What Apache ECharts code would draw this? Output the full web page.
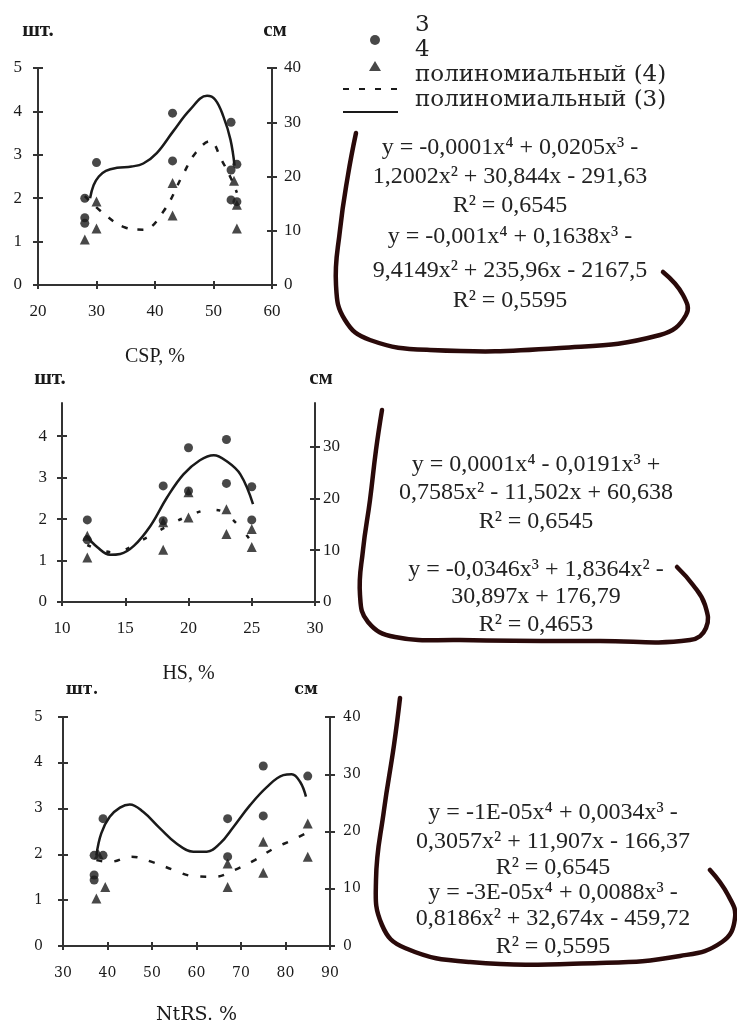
<!DOCTYPE html>
<html>
<head>
<meta charset="utf-8">
<script src="https://cdn.jsdelivr.net/npm/echarts@6/dist/echarts.min.js"></script>
<style>html,body{margin:0;padding:0;background:#fff}#c{width:737px;height:1030px}</style>
</head>
<body>
<div id="c"></div>
<script>
// ---------- DATA ----------
// series "3" (шт., circles) and series "4" (см, triangles)
const cspCircles   = [[28,2.0],[28,1.55],[28,1.42],[30,2.82],[43,3.96],[43,2.86],[53,3.75],[53,2.65],[54,2.78],[53,1.96],[54,1.92]];
const cspTriangles = [[28,8.4],[30,10.4],[30,15.4],[43,12.8],[43,18.8],[54,10.4],[54,14.8],[53.5,19.2]];
const cspPoly3     = [[28.9,2.0],[29.5,2.3],[30.4,2.5],[31.6,2.63],[33.5,2.7],[36,2.73],[38,2.8],[40.3,3.04],[43.1,3.54],[46,4.04],[48.9,4.36],[50.3,4.27],[51.7,3.88],[52.9,3.35],[53.6,2.75]];
const cspPoly4     = [[28,16.4],[31.4,13],[34.9,10.6],[38,10.2],[41.4,13.5],[44.9,20.6],[46.9,24.3],[49.4,26.5],[51.4,23],[53.1,19.4],[54,17]];

const hsCircles    = [[12,1.98],[12,1.5],[18,2.8],[18,1.96],[20,3.72],[20,2.68],[23,3.92],[23,2.86],[25,2.78],[25,1.98]];
const hsTriangles  = [[12,8.6],[12,12.8],[18,10.1],[18,15.4],[20,16.3],[20,21.2],[23,13.1],[23,17.9],[25,10.6],[25,14.1]];
const hsPoly3      = [[11.9,1.6],[12.8,1.32],[13.8,1.14],[14.6,1.16],[15.7,1.36],[17,1.84],[18.3,2.52],[19.6,3.08],[20.9,3.42],[22,3.54],[23,3.4],[24.1,3.08],[25.1,2.36]];
const hsPoly4      = [[12,11],[14,9.6],[16.7,12.4],[18,14.2],[20,16.6],[21.8,17.8],[23,17],[25,11.6]];

const ntrsCircles  = [[37,1.98],[37,1.55],[37,1.44],[39,2.78],[39,1.98],[67,2.78],[67,1.95],[75,3.93],[75,2.84],[85,3.71]];
const ntrsTriangles= [[37.5,8.3],[39.5,10.3],[38,16],[67,10.3],[67,14.4],[75,18.2],[75,12.8],[85,21.4],[85,15.6]];
const ntrsPoly3    = [[37.5,1.98],[38.6,2.46],[40.5,2.82],[42.8,3.02],[45,3.09],[48,2.93],[51.8,2.57],[55.5,2.24],[59.3,2.06],[62.3,2.06],[65.3,2.24],[68.3,2.6],[72,3.07],[75.8,3.47],[79.5,3.73],[81.4,3.75],[83.3,3.58],[84.6,3.26]];
const ntrsPoly4    = [[37.5,15],[40.5,14.7],[45.4,15.6],[50.3,14.6],[54.8,13.3],[59.3,12.2],[64.1,12.1],[68.6,13.3],[73.1,15],[77.3,17],[81.8,18.6],[84.6,19.7]];

const xNames = ['CSP, %', 'HS, %', 'NtRS. %'];
const legendNames = ['3', '4', 'полиномиальный (4)', 'полиномиальный (3)'];
const eqTop = ['y = -0,0001x\u2074 + 0,0205x\u00b3 -', '1,2002x\u00b2 + 30,844x - 291,63', 'R\u00b2 = 0,6545',
               'y = -0,001x\u2074 + 0,1638x\u00b3 -', '9,4149x\u00b2 + 235,96x - 2167,5', 'R\u00b2 = 0,5595'];
const eqMid = ['y = 0,0001x\u2074 - 0,0191x\u00b3 +', '0,7585x\u00b2 - 11,502x + 60,638', 'R\u00b2 = 0,6545',
               'y = -0,0346x\u00b3 + 1,8364x\u00b2 -', '30,897x + 176,79', 'R\u00b2 = 0,4653'];
const eqBot = ['y = -1E-05x\u2074 + 0,0034x\u00b3 -', '0,3057x\u00b2 + 11,907x - 166,37', 'R\u00b2 = 0,6545',
               'y = -3E-05x\u2074 + 0,0088x\u00b3 -', '0,8186x\u00b2 + 32,674x - 459,72', 'R\u00b2 = 0,5595'];

// ---------- LAYOUT ----------
const INK = '#1a1a1a';
const SERIF = '"Liberation Serif", "DejaVu Serif", serif';
const DJV = '"DejaVu Serif", serif';
const panels = [
  { grid:{left:38, top:68, width:234, height:217}, x:{min:20,max:60,interval:10}, yl:{min:0,max:5,vals:[0,1,2,3,4,5]}, yr:{min:0,max:40,vals:[0,10,20,30,40]},
    font:SERIF, fs:17, nameFont:SERIF, nameFs:21, xNameGap:62, lm:16, rm:12, xm:18,
    lName:{gap:27,pad:[0,0,0,0]}, rName:{gap:27,pad:[0,0,0,6]},
    c:cspCircles, t:cspTriangles, p3:cspPoly3, p4:cspPoly4, dash:[6,10] },
  { grid:{left:62, top:403, width:253, height:199}, x:{min:10,max:30,interval:5}, yl:{min:0,max:4.8,vals:[0,1,2,3,4]}, yr:{min:0,max:38.4,vals:[0,10,20,30]},
    font:SERIF, fs:17, nameFont:SERIF, nameFs:21, xNameGap:62, lm:15, rm:8, xm:18,
    lName:{gap:14,pad:[0,24,0,0]}, rName:{gap:14,pad:[0,0,0,12]},
    c:hsCircles, t:hsTriangles, p3:hsPoly3, p4:hsPoly4, dash:[4,16] },
  { grid:{left:63, top:717, width:267, height:229}, x:{min:30,max:90,interval:10}, yl:{min:0,max:5,vals:[0,1,2,3,4,5]}, yr:{min:0,max:40,vals:[0,10,20,30,40]},
    font:DJV, fs:14, nameFont:DJV, nameFs:16, xNameGap:60, lm:20, rm:13, xm:20,
    lName:{gap:19,pad:[0,0,0,38]}, rName:{gap:19,pad:[0,48,0,0]},
    c:ntrsCircles, t:ntrsTriangles, p3:ntrsPoly3, p4:ntrsPoly4, dash:[6,12] }
];

const grid = [], xAxis = [], yAxis = [], series = [];
const lineAx = { show:true, lineStyle:{ color:'#333', width:2 } };
panels.forEach((p, i) => {
  grid.push(Object.assign({ containLabel:false }, p.grid));
  xAxis.push({ type:'value', gridIndex:i, position:'bottom', min:p.x.min, max:p.x.max, interval:p.x.interval,
    axisLine:lineAx, axisTick:{show:true, length:4, lineStyle:{color:'#333',width:2}},
    axisLabel:{ color:INK, fontFamily:p.font, fontSize:p.fs, margin:p.xm },
    splitLine:{show:false},
    name:xNames[i], nameLocation:'middle', nameGap:p.xNameGap,
    nameTextStyle:{ color:INK, fontFamily:p.nameFont, fontSize:i===2?19:20 } });
  yAxis.push({ type:'value', gridIndex:i, position:'left', min:p.yl.min, max:p.yl.max, interval:1,
    axisLine:lineAx, axisTick:{show:true, length:5, customValues:p.yl.vals, lineStyle:{color:'#333',width:2}},
    axisLabel:{ color:INK, fontFamily:p.font, fontSize:p.fs, margin:p.lm, customValues:p.yl.vals },
    splitLine:{show:false},
    name:'шт.', nameLocation:'end', nameGap:p.lName.gap,
    nameTextStyle:{ color:INK, fontFamily:p.nameFont, fontSize:p.nameFs, fontWeight:'bold', padding:p.lName.pad } });
  yAxis.push({ type:'value', gridIndex:i, position:'right', min:p.yr.min, max:p.yr.max, interval:10,
    axisLine:lineAx, axisTick:{show:true, length:5, customValues:p.yr.vals, lineStyle:{color:'#333',width:2}},
    axisLabel:{ color:INK, fontFamily:p.font, fontSize:p.fs, margin:p.rm, customValues:p.yr.vals },
    splitLine:{show:false},
    name:'см', nameLocation:'end', nameGap:p.rName.gap,
    nameTextStyle:{ color:INK, fontFamily:p.nameFont, fontSize:p.nameFs, fontWeight:'bold', padding:p.rName.pad } });
});
// inner-tick copies (give crossing tick marks)
panels.forEach((p, i) => {
  xAxis.push({ type:'value', gridIndex:i, position:'bottom', min:p.x.min, max:p.x.max, interval:p.x.interval,
    axisLine:{show:false}, axisLabel:{show:false}, splitLine:{show:false},
    axisTick:{show:true, inside:true, length:4, lineStyle:{color:'#333',width:2}} });
  yAxis.push({ type:'value', gridIndex:i, position:'left', min:p.yl.min, max:p.yl.max, interval:1,
    axisLine:{show:false}, axisLabel:{show:false}, splitLine:{show:false},
    axisTick:{show:true, inside:true, length:5, customValues:p.yl.vals, lineStyle:{color:'#333',width:2}} });
  yAxis.push({ type:'value', gridIndex:i, position:'right', min:p.yr.min, max:p.yr.max, interval:10,
    axisLine:{show:false}, axisLabel:{show:false}, splitLine:{show:false},
    axisTick:{show:true, inside:true, length:5, customValues:p.yr.vals, lineStyle:{color:'#333',width:2}} });
});

panels.forEach((p, i) => {
  series.push({ name:'3', type:'scatter', xAxisIndex:i, yAxisIndex:2*i, data:p.c,
    symbol:'circle', symbolSize:9, itemStyle:{color:INK}, z:4 });
  series.push({ name:'4', type:'scatter', xAxisIndex:i, yAxisIndex:2*i+1, data:p.t,
    symbol:'triangle', symbolSize:10, itemStyle:{color:INK}, z:4 });
  series.push({ name:'полиномиальный (4)', type:'line', xAxisIndex:i, yAxisIndex:2*i+1, data:p.p4,
    smooth:0.4, symbol:'none', lineStyle:{color:INK, width:2.5, type:p.dash}, itemStyle:{color:INK}, z:3 });
  series.push({ name:'полиномиальный (3)', type:'line', xAxisIndex:i, yAxisIndex:2*i, data:p.p3,
    smooth:0.4, symbol:'none', lineStyle:{color:INK, width:2.5}, itemStyle:{color:INK}, z:3 });
});

// ---------- DECORATION: equation brackets and texts ----------
const BR = '#2a0a0a';
const brackets = [
  [[356,133],[348,175],[340,230],[336,285],[345,320],[370,340],[430,350],[560,348],[660,335],[686,315],[683,295],[663,272]],
  [[382,410],[376,450],[370,500],[363,550],[360,595],[368,622],[395,637],[460,640],[600,641],[690,640],[706,628],[705,605],[693,585],[677,567]],
  [[400,698],[394,745],[384,810],[376,880],[382,925],[405,948],[470,962],[600,963],[680,956],[722,942],[735,918],[728,895],[710,870]]
];
const eqBlocks = [
  { lines:eqTop, cx:510, ys:[148,177,206,237,271,301] },
  { lines:eqMid, cx:536, ys:[465,493,522,570,597,625] },
  { lines:eqBot, cx:553, ys:[813,842,868,893,919,947] }
];
const graphic = [
  { type:'rect', z:100, shape:{x:340, y:395, width:397, height:265}, style:{fill:'#fff'} }
];
brackets.forEach(pts => graphic.push({ type:'polyline', z:101, shape:{points:pts, smooth:0.45},
  style:{stroke:BR, lineWidth:4.5, fill:null, lineCap:'round'} }));
eqBlocks.forEach(b => b.lines.forEach((t, k) => graphic.push({ type:'text', z:102, x:b.cx, y:b.ys[k],
  style:{ text:t, fill:'#222', font:'24px "Liberation Serif"', align:'center', verticalAlign:'middle',
          textAlign:'center', textVerticalAlign:'middle' } })));

const chart = echarts.init(document.getElementById('c'), null, {renderer:'canvas'});
chart.setOption({
  animation:false,
  backgroundColor:'#fff',
  grid, xAxis, yAxis, series, graphic,
  legend:[
    { // marker samples
      data:legendNames.slice(0, 2), orient:'vertical', left:364, top:30, itemWidth:12, itemHeight:10, itemGap:16,
      selectedMode:false, formatter:() => '', textStyle:{fontSize:1, lineHeight:1}
    },
    { // line samples (symbol hidden)
      data:legendNames.slice(2), orient:'vertical', left:337, top:80, itemWidth:55, itemHeight:10, itemGap:15,
      selectedMode:false, formatter:() => '', textStyle:{fontSize:1, lineHeight:1},
      itemStyle:{opacity:0}
    },
    { // labels, set half a row higher as in the original
      data:legendNames, orient:'vertical', left:403, top:8, itemWidth:1, itemHeight:1, itemGap:1,
      selectedMode:false, itemStyle:{opacity:0}, lineStyle:{opacity:0},
      textStyle:{ color:'#222', fontFamily:DJV, fontSize:23, lineHeight:24 }
    }
  ]
});
</script>
</body>
</html>
